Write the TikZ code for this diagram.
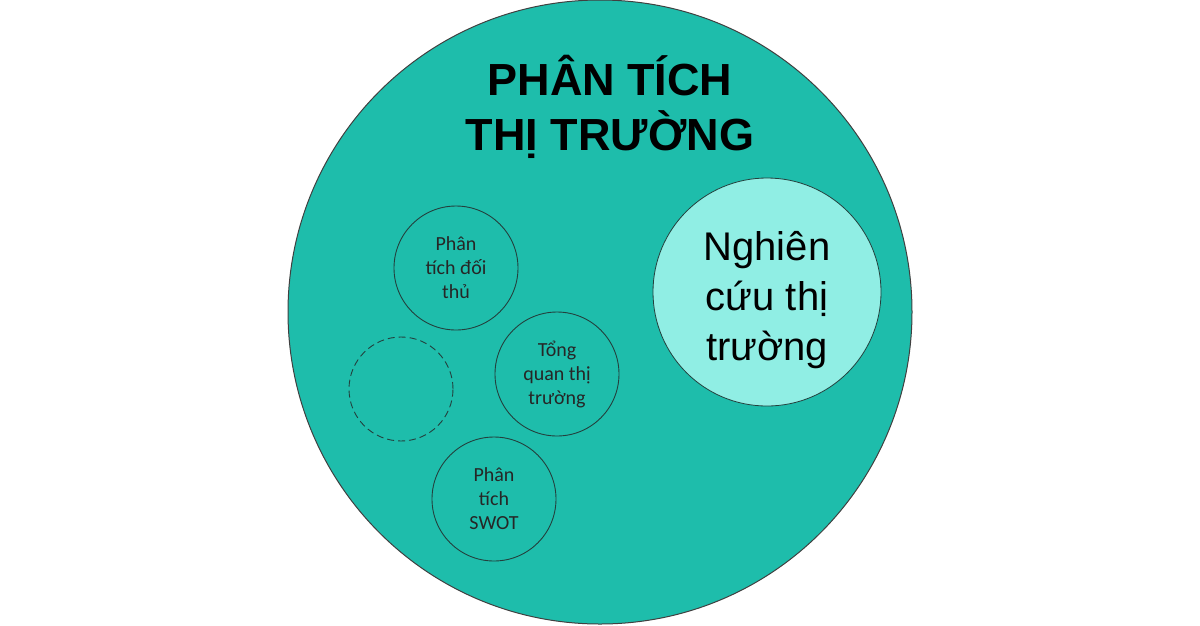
\documentclass[tikz,border=0pt]{standalone}
\usepackage{fontspec}
\setmainfont{Liberation Sans}
\newfontfamily\smallfont{Carlito}
\definecolor{marketteal}{HTML}{1EBDAB}
\definecolor{lightteal}{HTML}{90EEE4}
\definecolor{rimgray}{HTML}{23403D}
\tikzset{
  topic/.style={circle, draw=rimgray, line width=0.9pt, minimum size=124pt, inner sep=0pt,
    align=center, font=\smallfont\fontsize{20}{24}\selectfont, text=black!85},
}
\begin{document}
\begin{tikzpicture}[x=1pt, y=-1pt]
			\useasboundingbox (0,0) rectangle (1200,625);
			\fill [white] (0,0) rectangle (1200,625);
			
			\node [circle, draw=black!75, line width=1pt, fill=marketteal, minimum size=624pt, inner sep=0pt] (market) at (600,312) {};
			\node [align=center, font=\bfseries\fontsize{45}{55}\selectfont] (title) at (610,107) {PHÂN TÍCH\\THỊ TRƯỜNG};
			
			\node [circle, draw=rimgray, line width=0.8pt, fill=lightteal, minimum size=228pt, inner sep=0pt] (research) at (767,292) {};
			\node [align=center, font=\fontsize{40}{50}\selectfont] (researchtext) at ([yshift=-8pt]research.center) {Nghiên\\cứu thị\\trường};
			
			\node [topic] (rival) at (456,268) {Phân\\tích đối\\thủ};
			\node [topic] (overview) at (557,374) {Tổng\\quan thị\\trường};
			\node [topic] (swot) at (494,499) {Phân\\tích\\SWOT};
			\node [topic, dash pattern=on 7pt off 4pt, minimum size=104pt] (empty) at (401,389) {};
		\end{tikzpicture}
\end{document}
